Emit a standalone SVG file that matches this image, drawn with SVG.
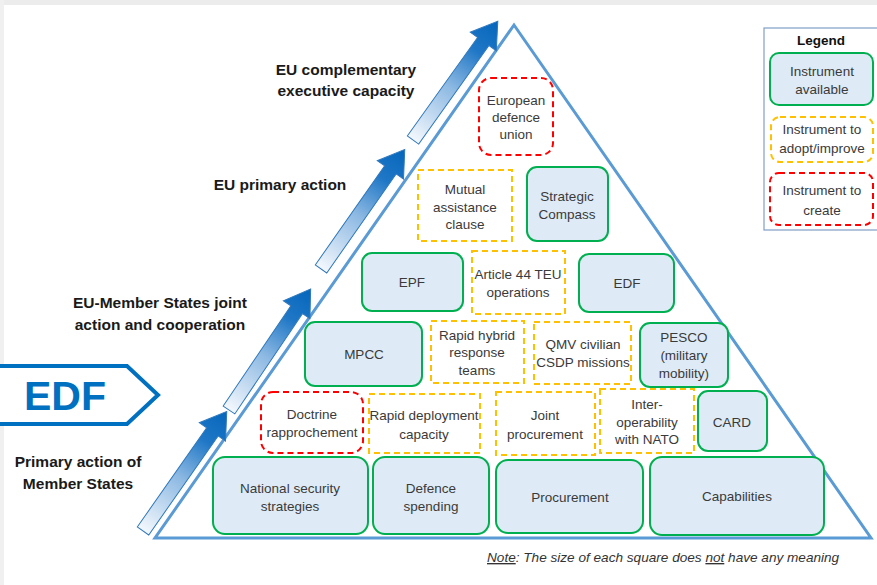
<svg xmlns="http://www.w3.org/2000/svg" width="877" height="585" viewBox="0 0 877 585">
<defs>
  <linearGradient id="ag" x1="0" y1="0" x2="1" y2="0">
    <stop offset="0" stop-color="#f4f8fd"/>
    <stop offset="0.45" stop-color="#8bb8e2"/>
    <stop offset="0.75" stop-color="#1f77c6"/>
    <stop offset="1" stop-color="#0566bb"/>
  </linearGradient>
  <path id="arr" d="M0,-7 L121,-7 L121,-16 L146,0 L121,16 L121,7 L0,7 Z"/>
  <style>
    .av{fill:#DEEBF7;stroke:#00B050;stroke-width:2}
    .ad{fill:#fff;stroke:#FFC000;stroke-width:2;stroke-dasharray:6 4}
    .cr{fill:#fff;stroke:#FF0000;stroke-width:2;stroke-dasharray:6 4}
    .t{font-family:"Liberation Sans",Arial,sans-serif;font-size:13.5px;fill:#3a3a3a;text-anchor:middle}
    .h{font-family:"Liberation Sans",Arial,sans-serif;font-size:15.5px;font-weight:bold;fill:#1a1a1a;text-anchor:middle}
    .arrow{fill:url(#ag);stroke:#2f78bd;stroke-width:1}
  </style>
</defs>
<rect x="0" y="0" width="877" height="585" fill="#fff"/>
<rect x="0" y="0" width="877" height="5" fill="#ececec"/>
<rect x="0" y="0" width="4" height="585" fill="#f0f0f0"/>

<g id="pyramid">
  <polygon points="514,25 155,538 871,538" fill="none" stroke="#5B9BD5" stroke-width="3" stroke-linejoin="miter"/>
</g>

<g id="connectors">
  <use href="#arr" class="arrow" transform="translate(143,531) rotate(-55)"/>
  <use href="#arr" class="arrow" transform="translate(229,410) rotate(-56)"/>
  <use href="#arr" class="arrow" transform="translate(321,269) rotate(-55)"/>
  <use href="#arr" class="arrow" transform="translate(413,140) rotate(-54.5)"/>
</g>

<g id="labels">
  <text class="h" x="346" y="75">EU complementary</text>
  <text class="h" x="346" y="96">executive capacity</text>
  <text class="h" x="280" y="190">EU primary action</text>
  <text class="h" x="160" y="308">EU-Member States joint</text>
  <text class="h" x="160" y="330">action and cooperation</text>
  <text class="h" x="78" y="467">Primary action of</text>
  <text class="h" x="78" y="489">Member States</text>
</g>

<g id="edf-tag">
  <path d="M-5,366 L127,366 L158,395 L127,424 L-5,424 Z" fill="#fff" stroke="#0070C0" stroke-width="4"/>
  <text x="65" y="410" font-family="Liberation Sans,Arial,sans-serif" font-size="41" font-weight="bold" fill="#0070C0" text-anchor="middle">EDF</text>
</g>

<g id="european-defence-union">
  <rect class="cr" x="479" y="78" width="74" height="77" rx="12"/>
  <text class="t" x="516" y="105">European</text>
  <text class="t" x="516" y="122">defence</text>
  <text class="t" x="516" y="139">union</text>
</g>
<g id="mutual-assistance">
  <rect class="ad" x="418" y="170" width="94" height="71"/>
  <text class="t" x="465" y="194">Mutual</text>
  <text class="t" x="465" y="212">assistance</text>
  <text class="t" x="465" y="229">clause</text>
</g>
<g id="strategic-compass">
  <rect class="av" x="527" y="167" width="81" height="74" rx="10"/>
  <text class="t" x="567" y="201">Strategic</text>
  <text class="t" x="567" y="219">Compass</text>
</g>
<g id="epf">
  <rect class="av" x="362" y="253" width="101" height="58" rx="10"/>
  <text class="t" x="412" y="287">EPF</text>
</g>
<g id="article44">
  <rect class="ad" x="472" y="251" width="93" height="63"/>
  <text class="t" x="518" y="279">Article 44 TEU</text>
  <text class="t" x="518" y="297">operations</text>
</g>
<g id="edf">
  <rect class="av" x="579" y="254" width="95" height="58" rx="10"/>
  <text class="t" x="627" y="288">EDF</text>
</g>
<g id="mpcc">
  <rect class="av" x="305" y="322" width="117" height="64" rx="10"/>
  <text class="t" x="364" y="359">MPCC</text>
</g>
<g id="rapid-hybrid">
  <rect class="ad" x="431" y="321" width="93" height="62"/>
  <text class="t" x="477" y="340">Rapid hybrid</text>
  <text class="t" x="477" y="357">response</text>
  <text class="t" x="477" y="375">teams</text>
</g>
<g id="qmv">
  <rect class="ad" x="534" y="322" width="97" height="62"/>
  <text class="t" x="583" y="349">QMV civilian</text>
  <text class="t" x="583" y="367">CSDP missions</text>
</g>
<g id="pesco">
  <rect class="av" x="640" y="323" width="88" height="64" rx="10"/>
  <text class="t" x="684" y="342">PESCO</text>
  <text class="t" x="684" y="360">(military</text>
  <text class="t" x="684" y="378">mobility)</text>
</g>
<g id="doctrine">
  <rect class="cr" x="261" y="392" width="102" height="61" rx="12"/>
  <text class="t" x="312" y="419">Doctrine</text>
  <text class="t" x="312" y="437">rapprochement</text>
</g>
<g id="rapid-deployment">
  <rect class="ad" x="369" y="394" width="111" height="59"/>
  <text class="t" x="424" y="420">Rapid deployment</text>
  <text class="t" x="424" y="439">capacity</text>
</g>
<g id="joint-procurement">
  <rect class="ad" x="496" y="392" width="99" height="63"/>
  <text class="t" x="545" y="420">Joint</text>
  <text class="t" x="545" y="439">procurement</text>
</g>
<g id="interoperability">
  <rect class="ad" x="600" y="389" width="94" height="64"/>
  <text class="t" x="647" y="409">Inter-</text>
  <text class="t" x="647" y="427">operability</text>
  <text class="t" x="647" y="444">with NATO</text>
</g>
<g id="card">
  <rect class="av" x="698" y="391" width="69" height="60" rx="10"/>
  <text class="t" x="732" y="427">CARD</text>
</g>
<g id="national-security">
  <rect class="av" x="213" y="457" width="155" height="77" rx="12"/>
  <text class="t" x="290" y="493">National security</text>
  <text class="t" x="290" y="511">strategies</text>
</g>
<g id="defence-spending">
  <rect class="av" x="373" y="457" width="116" height="77" rx="12"/>
  <text class="t" x="431" y="493">Defence</text>
  <text class="t" x="431" y="511">spending</text>
</g>
<g id="procurement">
  <rect class="av" x="496" y="460" width="147" height="73" rx="12"/>
  <text class="t" x="570" y="502">Procurement</text>
</g>
<g id="capabilities">
  <rect class="av" x="650" y="457" width="174" height="78" rx="12"/>
  <text class="t" x="737" y="501">Capabilities</text>
</g>

<g id="legend">
  <rect x="764" y="28" width="120" height="202" fill="#fff" stroke="#7f9fc6" stroke-width="1.2"/>
  <text x="821" y="45" font-family="Liberation Sans,Arial,sans-serif" font-size="13.5" font-weight="bold" fill="#111" text-anchor="middle">Legend</text>
  <rect class="av" x="770" y="53" width="103" height="52" rx="9"/>
  <text class="t" x="822" y="76">Instrument</text>
  <text class="t" x="822" y="94">available</text>
  <rect x="771" y="117" width="102" height="45" rx="9" fill="#fff" stroke="#FFC000" stroke-width="2" stroke-dasharray="6 4"/>
  <text class="t" x="822" y="134">Instrument to</text>
  <text class="t" x="822" y="153">adopt/improve</text>
  <rect class="cr" x="770" y="173" width="103" height="52" rx="9"/>
  <text class="t" x="822" y="195">Instrument to</text>
  <text class="t" x="822" y="215">create</text>
</g>

<g id="note">
  <text x="487" y="562" font-family="Liberation Sans,Arial,sans-serif" font-size="13.6" font-style="italic" fill="#333"><tspan text-decoration="underline">Note</tspan>: The size of each square  does <tspan text-decoration="underline">not</tspan> have any meaning</text>
</g>
</svg>
